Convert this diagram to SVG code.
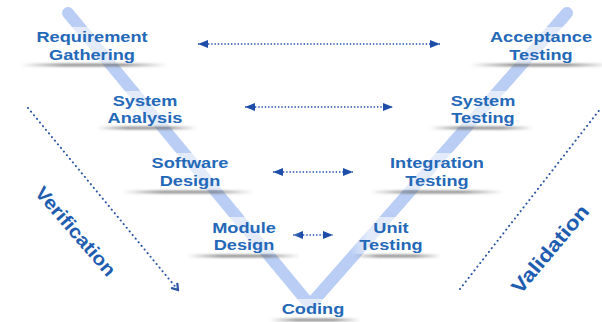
<svg xmlns="http://www.w3.org/2000/svg" width="602" height="322" viewBox="0 0 602 322">
<defs>
<style>
.lbl{font-family:"Liberation Sans",Arial,Helvetica,sans-serif;font-weight:bold;font-size:14px;fill:#2468b8;text-anchor:middle}
.big{font-family:"Liberation Sans",Arial,Helvetica,sans-serif;font-weight:bold;fill:#1f5db0;text-anchor:middle}
.band{fill:none;stroke:#a9c2f2;stroke-width:12;stroke-linecap:round;stroke-linejoin:round;opacity:0.8}
.hdot{fill:none;stroke:#1f4ea8;stroke-width:1.6;stroke-dasharray:1.4 1.9}
.ddot{fill:none;stroke:#2b55a3;stroke-width:2;stroke-linecap:round;stroke-dasharray:0.1 4.6}
.shadow{fill:url(#shg);filter:url(#blur)}
.shelf{fill:url(#wg);opacity:0.6}
</style>
<linearGradient id="shg" x1="0" y1="0" x2="1" y2="0">
<stop offset="0" stop-color="#6d6d6d" stop-opacity="0"/>
<stop offset="0.3" stop-color="#6d6d6d" stop-opacity="0.75"/>
<stop offset="0.7" stop-color="#6d6d6d" stop-opacity="0.75"/>
<stop offset="1" stop-color="#6d6d6d" stop-opacity="0"/>
</linearGradient>
<linearGradient id="wg" x1="0" y1="0" x2="1" y2="0">
<stop offset="0" stop-color="#fff" stop-opacity="0"/>
<stop offset="0.2" stop-color="#fff" stop-opacity="1"/>
<stop offset="0.8" stop-color="#fff" stop-opacity="1"/>
<stop offset="1" stop-color="#fff" stop-opacity="0"/>
</linearGradient>
<filter id="blur" x="-10%" y="-200%" width="120%" height="500%"><feGaussianBlur stdDeviation="1.2"/></filter>
<marker id="ah" viewBox="0 0 10 8" refX="10" refY="4" markerWidth="10" markerHeight="8" markerUnits="userSpaceOnUse" orient="auto-start-reverse">
<path d="M0,0 L10,4 L0,8 Z" fill="#1f4ea8"/>
</marker>
<marker id="oh" viewBox="0 0 10 10" refX="8" refY="5" markerWidth="10" markerHeight="10" markerUnits="userSpaceOnUse" orient="auto">
<path d="M2,1 L8,5 L2,9" fill="none" stroke="#2b55a3" stroke-width="2.2"/>
</marker>
</defs>
<rect width="602" height="322" fill="#ffffff"/>

<path class="band" d="M68,13 L310,305 L567,13"/>

<g id="connectors">
<line class="hdot" x1="198" y1="44" x2="440" y2="44" marker-start="url(#ah)" marker-end="url(#ah)"/>
<line class="hdot" x1="245" y1="107" x2="393" y2="107" marker-start="url(#ah)" marker-end="url(#ah)"/>
<line class="hdot" x1="273" y1="172" x2="353" y2="172" marker-start="url(#ah)" marker-end="url(#ah)"/>
<line class="hdot" x1="293" y1="235" x2="333" y2="235" marker-start="url(#ah)" marker-end="url(#ah)"/>
<line class="ddot" x1="28" y1="108" x2="178" y2="290" marker-end="url(#oh)"/>
<line class="ddot" x1="460" y1="289" x2="601" y2="108"/>
</g>

<g id="requirement-gathering">
<rect class="shelf" x="15" y="27" width="155" height="37"/>
<rect class="shadow" x="20" y="63.5" width="147" height="3"/>
<g transform="translate(92,42) scale(1.3,1)"><text class="lbl" x="0" y="0">Requirement</text><text class="lbl" x="0" y="18">Gathering</text></g>
</g>
<g id="acceptance-testing">
<rect class="shelf" x="468" y="27" width="134" height="37"/>
<rect class="shadow" x="470" y="63.5" width="140" height="3"/>
<g transform="translate(541,42) scale(1.3,1)"><text class="lbl" x="0" y="0">Acceptance</text><text class="lbl" x="0" y="18">Testing</text></g>
</g>
<g id="system-analysis">
<rect class="shelf" x="95" y="91" width="105" height="36"/>
<rect class="shadow" x="97" y="126.5" width="100" height="3"/>
<g transform="translate(145,106) scale(1.3,1)"><text class="lbl" x="0" y="0">System</text><text class="lbl" x="0" y="17">Analysis</text></g>
</g>
<g id="system-testing">
<rect class="shelf" x="428" y="91" width="108" height="36"/>
<rect class="shadow" x="430" y="126.5" width="103" height="3"/>
<g transform="translate(483,106) scale(1.3,1)"><text class="lbl" x="0" y="0">System</text><text class="lbl" x="0" y="17">Testing</text></g>
</g>
<g id="software-design">
<rect class="shelf" x="122" y="153" width="133" height="37"/>
<rect class="shadow" x="123" y="190.5" width="130" height="3"/>
<g transform="translate(190,168) scale(1.3,1)"><text class="lbl" x="0" y="0">Software</text><text class="lbl" x="0" y="18">Design</text></g>
</g>
<g id="integration-testing">
<rect class="shelf" x="368" y="153" width="137" height="37"/>
<rect class="shadow" x="370" y="190.5" width="133" height="3"/>
<g transform="translate(437,168) scale(1.3,1)"><text class="lbl" x="0" y="0">Integration</text><text class="lbl" x="0" y="18">Testing</text></g>
</g>
<g id="module-design">
<rect class="shelf" x="186" y="217" width="115" height="37"/>
<rect class="shadow" x="187" y="254.5" width="113" height="3"/>
<g transform="translate(244,233) scale(1.3,1)"><text class="lbl" x="0" y="0">Module</text><text class="lbl" x="0" y="17">Design</text></g>
</g>
<g id="unit-testing">
<rect class="shelf" x="350" y="217" width="92" height="37"/>
<rect class="shadow" x="353" y="254.5" width="88" height="3"/>
<g transform="translate(391,233) scale(1.3,1)"><text class="lbl" x="0" y="0">Unit</text><text class="lbl" x="0" y="17">Testing</text></g>
</g>
<g id="coding">
<rect class="shelf" x="268" y="299" width="92" height="19"/>
<rect class="shadow" x="270" y="318.5" width="90" height="3"/>
<g transform="translate(313,314) scale(1.3,1)"><text class="lbl" x="0" y="0">Coding</text></g>
</g>

<g id="verification">
<text class="big" font-size="19" transform="translate(76,231) rotate(49) scale(1.09,1)" x="0" y="7">Verification</text>
</g>
<g id="validation">
<text class="big" font-size="20" transform="translate(550,249) rotate(-50) scale(1.15,1)" x="0" y="7">Validation</text>
</g>
</svg>
